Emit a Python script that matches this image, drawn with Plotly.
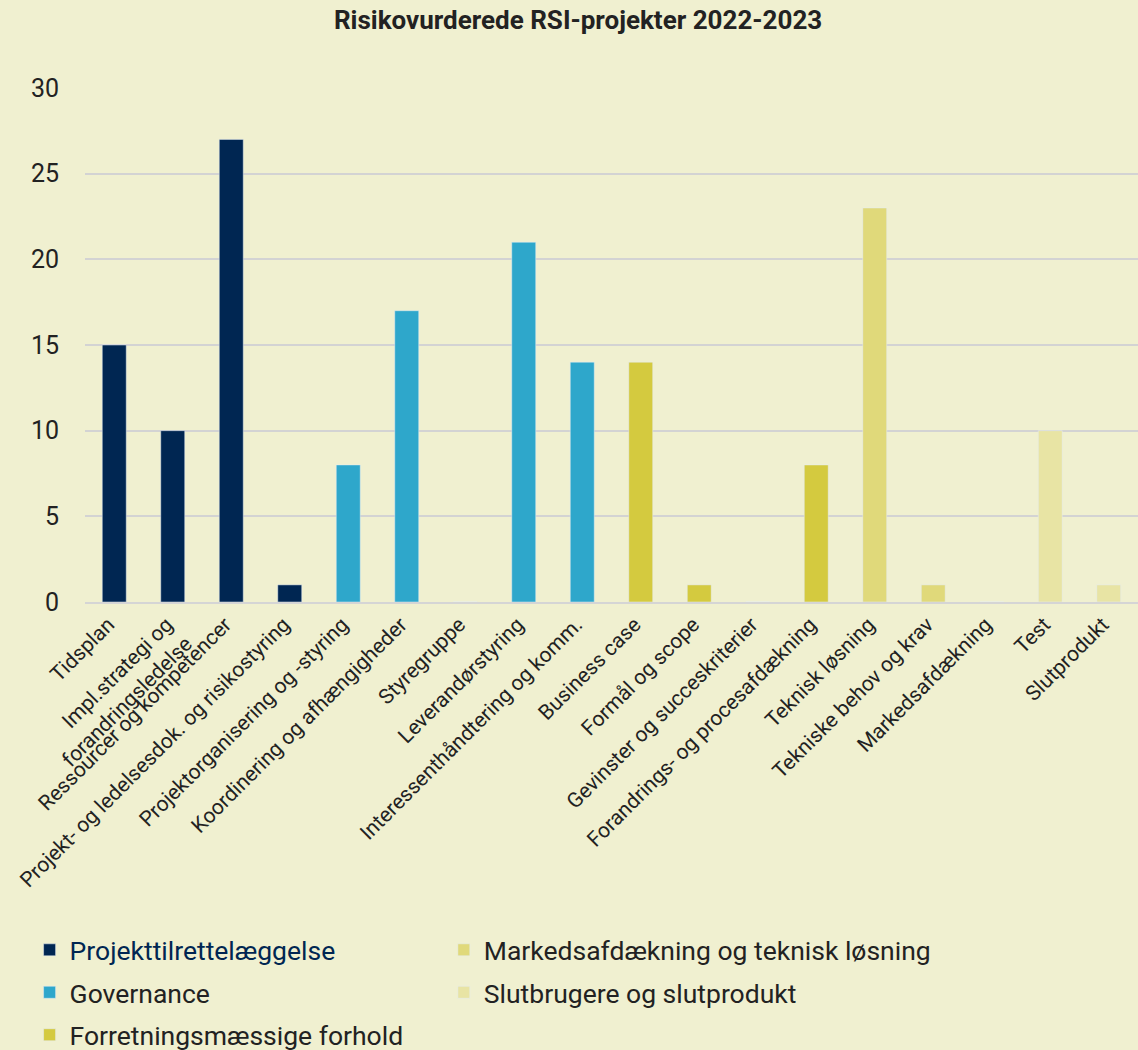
import plotly.graph_objects as go

categories = [
    "Tidsplan", "Impl.strategi og<br>forandringsledelse", "Ressourcer og kompetencer",
    "Projekt- og ledelsesdok. og risikostyring", "Projektorganisering og -styring",
    "Koordinering og afhængigheder", "Styregruppe", "Leverandørstyring",
    "Interessenthåndtering og komm.", "Business case", "Formål og scope",
    "Gevinster og succeskriterier", "Forandrings- og procesafdækning", "Teknisk løsning",
    "Tekniske behov og krav", "Markedsafdækning", "Test", "Slutprodukt",
]
values = [15, 10, 27, 1, 8, 17, 0, 21, 14, 14, 1, 0, 8, 23, 1, 0, 10, 1]

groups = [
    "Projekttilrettelæggelse", "Governance", "Forretningsmæssige forhold",
    "Markedsafdækning og teknisk løsning", "Slutbrugere og slutprodukt",
]
group_of = [0, 0, 0, 0, 1, 1, 1, 1, 1, 2, 2, 2, 2, 3, 3, 3, 4, 4]
colors = ["#002652", "#2EA7CB", "#D4CA3F", "#E0D97A", "#E8E4A4"]
legend_of = ["legend", "legend", "legend", "legend2", "legend2"]

fig = go.Figure()
for g, name in enumerate(groups):
    xs = [c for c, k in zip(categories, group_of) if k == g]
    ys = [v for v, k in zip(values, group_of) if k == g]
    label = name
    if g == 0:
        label = '<span style="color:#002652">' + name + '</span>'
    fig.add_trace(go.Bar(x=xs, y=ys, name=label, marker_color=colors[g],
                         legend=legend_of[g], legendgroup=f"g{g}"))

legend_style = dict(
    orientation="v", xref="container", yref="container", yanchor="top", xanchor="left",
    bgcolor="rgba(0,0,0,0)", font=dict(size=26.5, color="#222222"),
    tracegroupgap=5, itemwidth=30,
)
fig.update_layout(
    width=1138, height=1050,
    paper_bgcolor="#F0F0D0", plot_bgcolor="#F0F0D0",
    font=dict(family="Roboto", color="#222222"),
    title=dict(text="<b>Risikovurderede RSI-projekter 2022-2023</b>",
               x=0.508, xref="container", y=0.981, yref="container",
               yanchor="middle", font=dict(size=26, color="#222222")),
    margin=dict(l=85, r=0, t=88, b=448, autoexpand=False),
    barmode="relative", bargap=0.59,
    legend=dict(x=0.026, y=0.118, **legend_style),
    legend2=dict(x=0.39, y=0.118, **legend_style),
    xaxis=dict(categoryorder="array", categoryarray=categories, tickangle=-45,
               tickfont=dict(size=21, color="#222222"), showgrid=False, automargin=False,
               ticklabelshift=-6,
               showline=True, linecolor="#D5D5D5", linewidth=2),
    yaxis=dict(range=[0, 30], dtick=5, tickfont=dict(size=25, color="#222222"),
               gridcolor="#D3D3D3", gridwidth=2, zeroline=False, automargin=False,
               ticklabelstandoff=25),
)

fig.write_html("out.html", config={"displayModeBar": False},
               post_script="document.body.style.margin='0';")
